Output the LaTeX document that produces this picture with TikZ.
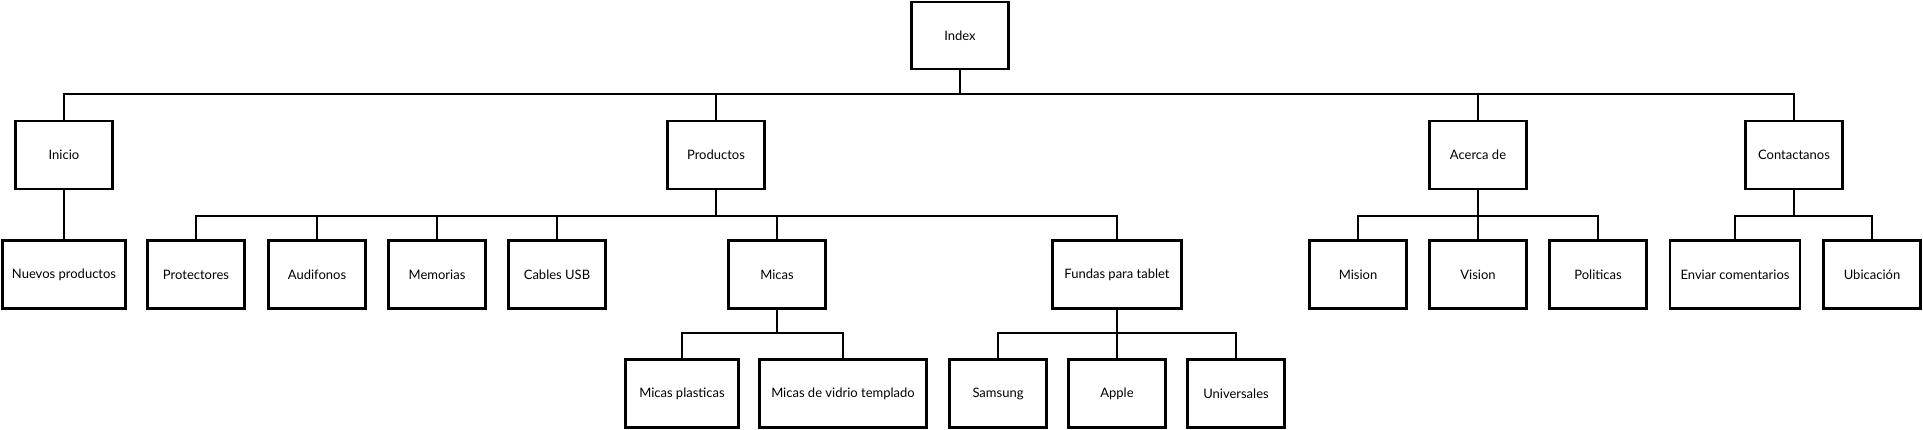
\documentclass[tikz,border=0pt]{standalone}
\usepackage{fontspec}
\setmainfont{Lato}
\usetikzlibrary{positioning}

\tikzset{
  caja/.style={shape=rectangle, draw=black, line width=2.4pt, fill=white,
    minimum width=97pt, minimum height=68pt, inner sep=0pt,
    font=\fontsize{13}{15}\selectfont},
  enlace/.style={draw=black, line width=2pt},
}

\begin{document}
\begin{tikzpicture}[x=1pt, y=-1pt]
    \useasboundingbox (0,0) rectangle (1923,430);

    % raiz
    \node[caja, minimum height=67pt] (index) at (960,35.5) {Index};

    % primer nivel
    \node[caja] (inicio) at (64,155) {Inicio};
    \node[caja] (productos) at (716,155) {Productos};
    \node[caja] (acerca) at (1478,155) {Acerca de};
    \node[caja] (contacto) at (1794,155) {Contactanos};

    % segundo nivel
    \node[caja, minimum width=123pt] (nuevos) at (64,274.5) {Nuevos productos};
    \node[caja] (protectores) at (196,274.5) {Protectores};
    \node[caja] (audifonos) at (317,274.5) {Audifonos};
    \node[caja] (memorias) at (437,274.5) {Memorias};
    \node[caja] (cables) at (557,274.5) {Cables USB};
    \node[caja] (micas) at (777,274.5) {Micas};
    \node[caja, minimum width=129pt] (fundas) at (1117,274.5) {Fundas para tablet};
    \node[caja] (mision) at (1358,274.5) {Mision};
    \node[caja] (vision) at (1478,274.5) {Vision};
    \node[caja] (politicas) at (1598,274.5) {Politicas};
    \node[caja, minimum width=130pt] (enviar) at (1735,274.5) {Enviar comentarios};
    \node[caja] (ubicacion) at (1872,274.5) {Ubicación};

    % tercer nivel
    \node[caja, minimum width=113pt] (plasticas) at (682,393.5) {Micas plasticas};
    \node[caja, minimum width=167pt] (vidrio) at (843,393.5) {Micas de vidrio templado};
    \node[caja] (samsung) at (998,393.5) {Samsung};
    \node[caja] (apple) at (1117,393.5) {Apple};
    \node[caja] (universales) at (1236,393.5) {Universales};

    % enlaces
    \foreach \hijo in {inicio, productos, acerca, contacto}
        \draw[enlace] (index.south) -- ++(0,24) -| (\hijo.north);
    \draw[enlace] (inicio.south) -- (nuevos.north);
    \foreach \hijo in {protectores, audifonos, memorias, cables, micas, fundas}
        \draw[enlace] (productos.south) -- ++(0,26) -| (\hijo.north);
    \foreach \hijo in {mision, vision, politicas}
        \draw[enlace] (acerca.south) -- ++(0,26) -| (\hijo.north);
    \foreach \hijo in {enviar, ubicacion}
        \draw[enlace] (contacto.south) -- ++(0,26) -| (\hijo.north);
    \foreach \hijo in {plasticas, vidrio}
        \draw[enlace] (micas.south) -- ++(0,23) -| (\hijo.north);
    \foreach \hijo in {samsung, apple, universales}
        \draw[enlace] (fundas.south) -- ++(0,23) -| (\hijo.north);
\end{tikzpicture}
\end{document}
